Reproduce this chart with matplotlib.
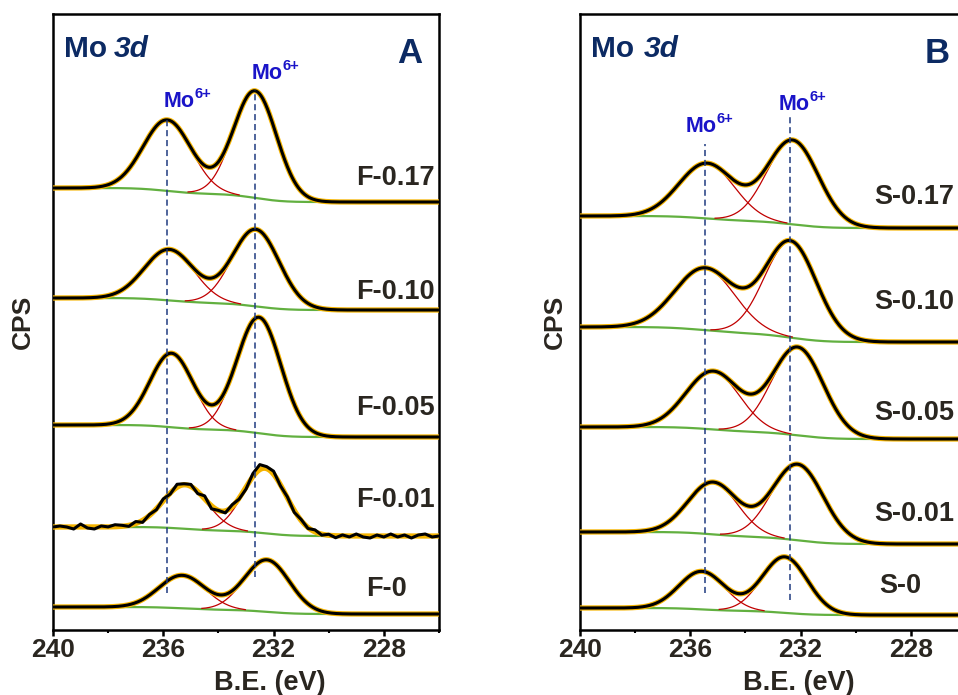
import numpy as np
import matplotlib.pyplot as plt
from matplotlib.ticker import FixedLocator

plt.rcParams['font.family'] = ['Liberation Sans', 'DejaVu Sans']
plt.rcParams['font.weight'] = 'bold'

# binding energy grid (eV), 0.025 eV step
be = np.linspace(240, 226, 561)

# Panel A - F series, top to bottom (fit parameters)
f_names = ['F-0.17', 'F-0.10', 'F-0.05', 'F-0.01', 'F-0']
f_bg_left = [442, 332, 205, 103, 23]
f_bg_right = [428, 320, 193, 94, 16]
f_pos1 = [235.85, 235.78, 235.70, 235.20, 235.31]
f_pos2 = [232.67, 232.64, 232.53, 232.31, 232.24]
f_h1 = [71, 51, 74, 44, 33]
f_h2 = [107, 77, 116, 65, 52]
f_w1 = [0.87, 0.90, 0.78, 0.80, 0.84]
f_w2 = [0.78, 0.85, 0.80, 0.77, 0.82]
f_label_y = [445, 331, 215, 123, 34]

# Panel B - S series, top to bottom
s_names = ['S-0.17', 'S-0.10', 'S-0.05', 'S-0.01', 'S-0']
s_bg_left = [414, 303, 203, 98, 22]
s_bg_right = [402, 288, 191, 86, 15]
s_pos1 = [235.40, 235.47, 235.18, 235.18, 235.58]
s_pos2 = [232.28, 232.36, 232.10, 232.10, 232.57]
s_h1 = [55, 62, 58, 52, 38]
s_h2 = [84, 96, 88, 76, 56]
s_w1 = [1.00, 1.08, 0.97, 0.90, 0.82]
s_w2 = [0.93, 0.94, 0.93, 0.93, 0.82]
s_label_y = [426, 321, 210, 109, 37]

# noise of the F-0.01 raw spectrum, every 0.25 eV from 240 to 226
f001_noise = [0, 1, 0, -2, 3, -1, -2, 1, 0, 2, 1, -1, 2, -2, 1, -1, 2, -1, 3,
              1, 2, -2, 3, -3, 0, -2, 2, -1, -2, 3, 5, 2, 3, -1, 1, -2, 1, -1,
              2, -1, 1, -2, 1, -1, 2, -1, -2, 1, -1, 2, -1, 1, -2, 1, 2, -1, 0]

# dashed Mo6+ guide lines: (position, top, bottom)
a_guides = [(235.85, 510, 37), (232.67, 540, 53)]
b_guides = [(235.47, 486, 37), (232.39, 515, 30)]
a_mo_labels = [(235.13, 523), (231.95, 551)]
b_mo_labels = [(235.33, 498), (231.96, 520)]

ink = '#2a2620'
navy = '#0c2a63'


def draw_panel(ax, names, bgl, bgr, p1, p2, h1, h2, w1, w2, label_y,
               label_x, last_x, guides, mo_labels, letter, x3d, noisy=None):
    for i in range(len(names)):
        g1 = h1[i] * np.exp(-0.5 * ((be - p1[i]) / w1[i]) ** 2)
        g2 = h2[i] * np.exp(-0.5 * ((be - p2[i]) / w2[i]) ** 2)
        tot = g1 + g2
        cum = np.cumsum(tot[::-1])[::-1]
        bg = bgr[i] + (bgl[i] - bgr[i]) * cum / cum[0]
        fit = bg + tot
        ax.plot(be, bg, color='#62b040', lw=1.6, zorder=2)
        ax.plot(be, np.where(g1 > 0.8, bg + g1, np.nan), color='#c00000', lw=0.9, zorder=3)
        ax.plot(be, np.where(g2 > 0.8, bg + g2, np.nan), color='#c00000', lw=0.9, zorder=3)
        ax.plot(be, fit, color='#f5b400', lw=3.8, zorder=4)
        if noisy is not None and names[i] == noisy[0]:
            ax.plot(be[::10], fit[::10] + np.array(noisy[1]), color='k', lw=2.2, zorder=5)
        else:
            ax.plot(be, fit, color='k', lw=2.2, zorder=5)
        if i == len(names) - 1:
            ax.text(last_x, label_y[i], names[i], ha='center', va='baseline',
                    fontsize=19.5, color=ink)
        else:
            ax.text(label_x, label_y[i], names[i], ha='right', va='baseline',
                    fontsize=19.5, color=ink)
    for pos, top, bot in guides:
        ax.plot([pos, pos], [bot, top], color='#1f3a80', lw=1.1, ls=(0, (4, 2.5)), zorder=6)
    for x, y in mo_labels:
        ax.annotate('Mo', (x, y), xytext=(5.5, 0), textcoords='offset points',
                    ha='right', va='baseline', fontsize=15.5, color='#1a14c8')
        ax.annotate('6+', (x, y), xytext=(5.5, 6.5), textcoords='offset points',
                    ha='left', va='baseline', fontsize=10.5, color='#1a14c8')
    ax.text(239.6, 573, 'Mo', ha='left', va='baseline', fontsize=21.5, color=navy)
    ax.text(x3d, 573, '3d', ha='left', va='baseline', fontsize=21.5, color=navy,
            style='italic')
    ax.text(227.05, 567, letter, ha='center', va='baseline', fontsize=25, color=navy)

    ax.set_xlim(240, 226)
    ax.set_ylim(0, 616)
    ax.set_yticks([])
    ax.xaxis.set_major_locator(FixedLocator([240, 236, 232, 228]))
    ax.xaxis.set_minor_locator(FixedLocator([238, 234, 230, 226]))
    ax.tick_params(axis='x', which='major', direction='out', length=4, width=1.8,
                   pad=1.5, labelsize=19, labelcolor=ink)
    ax.tick_params(axis='x', which='minor', direction='out', length=2.5, width=1.5)
    for s in ax.spines.values():
        s.set_linewidth(1.8)


fig = plt.figure(figsize=(9.58, 6.95), dpi=100)
W, H = 958, 695
axA = fig.add_axes([53 / W, 65 / H, 386 / W, 616 / H])
axB = fig.add_axes([580 / W, 65 / H, 386 / W, 616 / H])

draw_panel(axA, f_names, f_bg_left, f_bg_right, f_pos1, f_pos2, f_h1, f_h2,
           f_w1, f_w2, f_label_y, 226.17, 227.91, a_guides, a_mo_labels, 'A',
           237.78, noisy=('F-0.01', f001_noise))
draw_panel(axB, s_names, s_bg_left, s_bg_right, s_pos1, s_pos2, s_h1, s_h2,
           s_w1, s_w2, s_label_y, 226.41, 228.37, b_guides, b_mo_labels, 'B',
           237.70)

for cx in (23, 555):
    fig.text(cx / W, 1 - 322 / H, 'CPS', rotation=90, ha='center', va='center',
             fontsize=19, color=ink)
for cx in (270, 799):
    fig.text(cx / W, 1 - 683 / H, 'B.E. (eV)', ha='center', va='center',
             fontsize=19.5, color=ink)

fig.savefig('out.png', dpi=100)
